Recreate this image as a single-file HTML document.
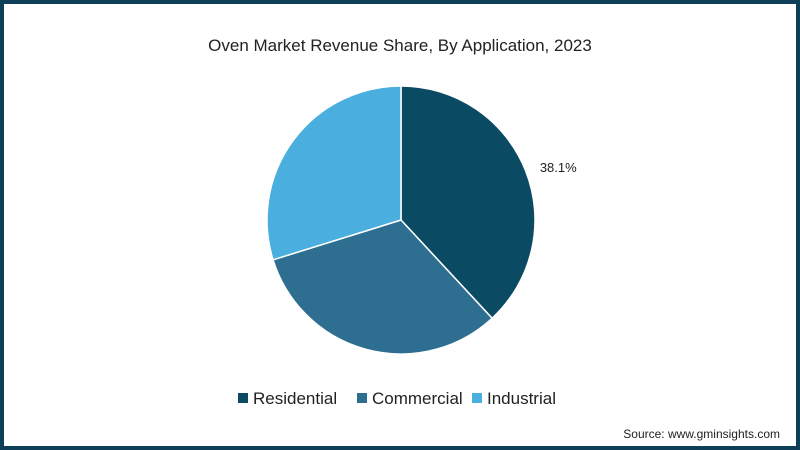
<!DOCTYPE html>
<html><head><meta charset="utf-8"><style>
html,body{margin:0;padding:0;background:#fff;}
#wrap{position:relative;width:800px;height:450px;box-sizing:border-box;border:4px solid #0f3f58;background:#fff;font-family:"Liberation Sans",sans-serif;overflow:hidden;}
svg{position:absolute;left:-4px;top:-4px;}
</style></head><body>
<div id="wrap">
<svg id="chart" width="800" height="450">
<text x="400" y="51" text-anchor="middle" font-size="17" fill="#222">Oven Market Revenue Share, By Application, 2023</text>
<g id="slices"></g>
<g id="legend"></g>
<text x="780" y="438" text-anchor="end" font-size="12" fill="#222">Source: www.gminsights.com</text>
</svg>
</div>
<script>
const categories = ["Residential","Commercial","Industrial"];
const values = [38.1, 32.1, 29.8];
const colors = ["#0b4a63","#2e6f91","#4aaede"];
const labelShown = [true,false,false];
const cx=401, cy=220, r=134;
const ns="http://www.w3.org/2000/svg";
const g=document.getElementById('slices');
const total=values.reduce((a,b)=>a+b,0);
function pt(a,rr){return [cx+rr*Math.sin(a), cy-rr*Math.cos(a)];}
let start=0;
values.forEach((v,i)=>{
  const ang=v/total*2*Math.PI, end=start+ang;
  const [x1,y1]=pt(start,r),[x2,y2]=pt(end,r);
  const p=document.createElementNS(ns,'path');
  p.setAttribute('d',`M${cx},${cy} L${x1},${y1} A${r},${r} 0 ${ang>Math.PI?1:0} 1 ${x2},${y2} Z`);
  p.setAttribute('fill',colors[i]);p.setAttribute('stroke','#fff');p.setAttribute('stroke-width','1.5');
  
  
  g.appendChild(p);
  if(labelShown[i]){
    const [lx,ly]=pt(start+ang*0.52,r+32);
    const t=document.createElementNS(ns,'text');
    t.setAttribute('x',lx);t.setAttribute('y',ly+5);t.setAttribute('text-anchor','middle');
    t.setAttribute('font-size','13');t.setAttribute('fill','#222');
    t.textContent=v.toFixed(1)+'%';
    
    
    g.appendChild(t);
  }
  start=end;
});
const lg=document.getElementById('legend');
const lx=[238,357,472];
categories.forEach((c,i)=>{
  const gr=document.createElementNS(ns,'g');
  
  
  const s=document.createElementNS(ns,'rect');
  s.setAttribute('x',lx[i]);s.setAttribute('y',393);s.setAttribute('width',10);s.setAttribute('height',10);s.setAttribute('fill',colors[i]);
  const t=document.createElementNS(ns,'text');
  t.setAttribute('x',lx[i]+15);t.setAttribute('y',404);t.setAttribute('font-size','17');t.setAttribute('fill','#222');
  t.textContent=c;
  gr.appendChild(s);gr.appendChild(t);lg.appendChild(gr);
});
</script>
</body></html>
